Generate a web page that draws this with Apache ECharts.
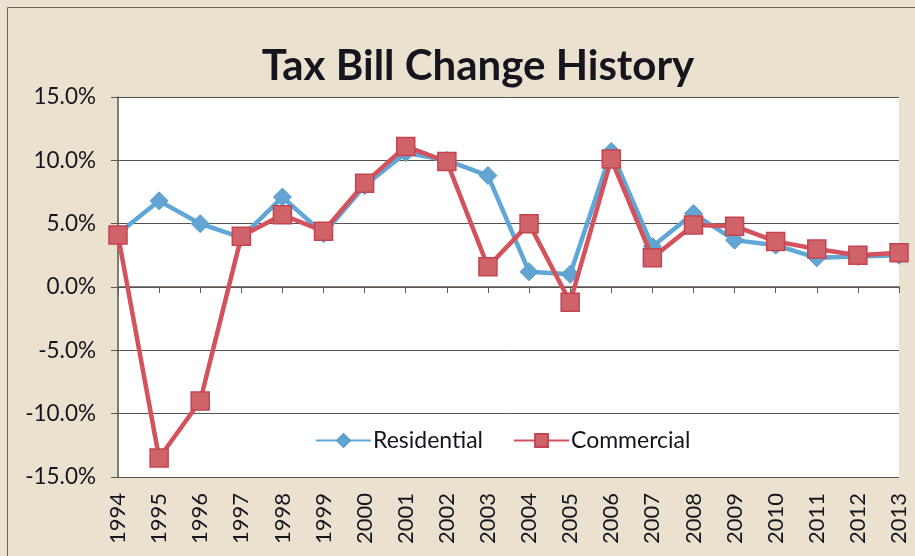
<!DOCTYPE html>
<html>
<head>
<meta charset="utf-8">
<script src="https://cdn.jsdelivr.net/npm/echarts@6/dist/echarts.min.js"></script>
<style>
  html, body { margin: 0; padding: 0; background: #ebe1cf; }
  #chart { width: 915px; height: 556px; }
</style>
</head>
<body>
<div id="chart"></div>
<script>
// Annual change in tax bills, in percent
const years = ['1994','1995','1996','1997','1998','1999','2000','2001','2002','2003',
               '2004','2005','2006','2007','2008','2009','2010','2011','2012','2013'];
const residential = [4.2, 6.8, 5.0, 3.9, 7.1, 4.2, 8.0, 10.6, 10.0, 8.8,
                     1.2, 1.0, 10.7, 3.2, 5.8, 3.7, 3.3, 2.3, 2.4, 2.5];
const commercial  = [4.1, -13.5, -9.0, 4.0, 5.7, 4.4, 8.2, 11.1, 9.9, 1.6,
                     5.0, -1.2, 10.1, 2.3, 4.9, 4.8, 3.6, 3.0, 2.5, 2.7];
const yTicks = { min: -15, max: 15, step: 5 };

const font = 'Lato, "Open Sans", sans-serif';
const chart = echarts.init(document.getElementById('chart'), null, { renderer: 'canvas' });

chart.setOption({
  backgroundColor: '#ebe1cf',
  animation: false,
  title: {
    text: 'Tax Bill Change History',
    left: 473, top: 40, textAlign: 'center',
    textStyle: { fontFamily: font, fontWeight: 'bold', fontSize: 42, color: '#15151f' }
  },
  graphic: [{
    type: 'polyline',
    shape: { points: [[7.5, 556], [7.5, 7.5], [915, 7.5]] },
    style: { stroke: '#6a645c', lineWidth: 1, fill: null },
    silent: true
  }],
  legend: {
    left: 310, top: 424,
    itemWidth: 55, itemHeight: 16, itemGap: 30,
    textStyle: { fontFamily: font, fontSize: 23, color: '#15151f', padding: [0, 0, 0, -3] },
    data: ['Residential', 'Commercial']
  },
  grid: { left: 118, right: 16, top: 97, bottom: 79, show: true, backgroundColor: '#ffffff', borderWidth: 0 },
  xAxis: {
    type: 'category',
    data: years,
    boundaryGap: false,
    axisLine: { lineStyle: { color: '#5a5650', width: 1.5 } },
    axisTick: { show: true, alignWithLabel: true, length: 6, lineStyle: { color: '#5a5650' } },
    axisLabel: { rotate: 90, margin: 16, fontFamily: font, fontSize: 22, color: '#15151f', interval: 0 },
    splitLine: { show: false }
  },
  yAxis: {
    type: 'value',
    min: yTicks.min, max: yTicks.max, interval: yTicks.step,
    axisLine: { show: true, lineStyle: { color: '#5a5650', width: 1.5 } },
    axisTick: { show: true, length: 7, lineStyle: { color: '#5a5650' } },
    axisLabel: { margin: 22, fontFamily: font, fontSize: 22.5, color: '#15151f',
                 formatter: v => v.toFixed(1) + '%' },
    splitLine: { show: true, lineStyle: { color: '#55524d', width: 1 } }
  },
  series: [
    {
      name: 'Residential', type: 'line', data: residential,
      symbol: 'diamond', symbolSize: 18,
      lineStyle: { color: '#5ea7d7', width: 4.5 },
      itemStyle: { color: '#62a4d2', borderColor: '#5a9ccc', borderWidth: 1 },
      z: 2
    },
    {
      name: 'Commercial', type: 'line', data: commercial,
      symbol: 'rect', symbolSize: 18,
      lineStyle: { color: '#d4525c', width: 4.5 },
      itemStyle: { color: '#d0626a', borderColor: '#c24550', borderWidth: 1.5 },
      z: 3
    }
  ]
});
</script>
</body>
</html>
